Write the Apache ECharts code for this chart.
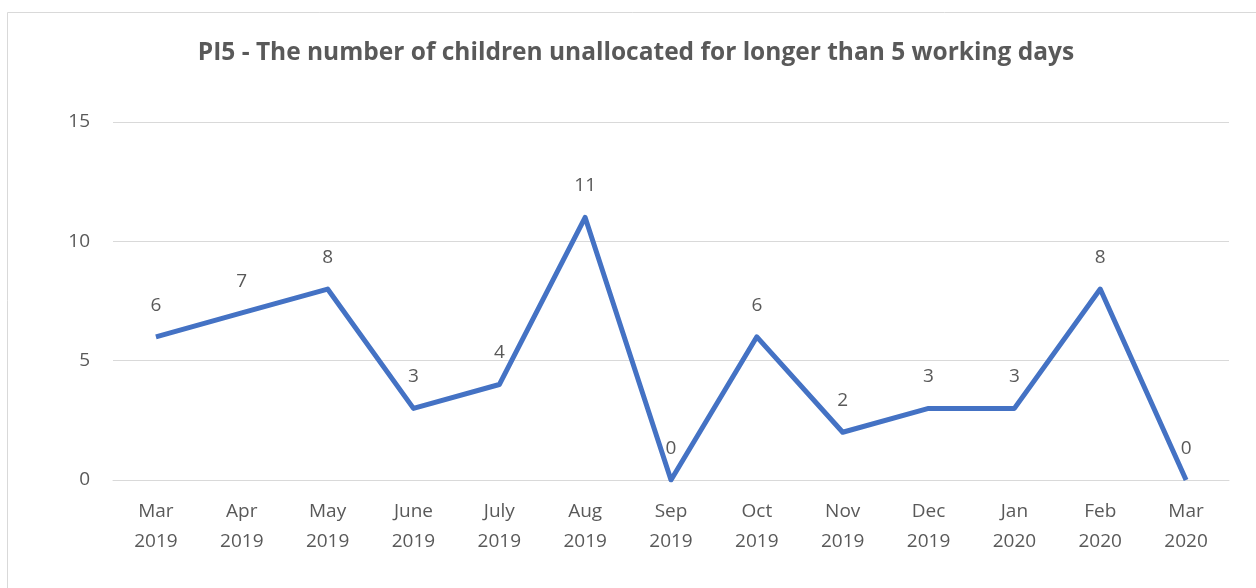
<!DOCTYPE html>
<html>
<head>
<meta charset="utf-8">
<script src="https://cdn.jsdelivr.net/npm/echarts@6/dist/echarts.min.js"></script>
<style>
  html, body { margin: 0; padding: 0; background: #fff; }
  #chart { width: 1256px; height: 588px; }
</style>
</head>
<body>
<div id="chart"></div>
<script>
// Monthly count of children unallocated for more than 5 working days
const months = ['Mar\n2019', 'Apr\n2019', 'May\n2019', 'June\n2019', 'July\n2019', 'Aug\n2019',
  'Sep\n2019', 'Oct\n2019', 'Nov\n2019', 'Dec\n2019', 'Jan\n2020', 'Feb\n2020', 'Mar\n2020'];
const unallocated = [6, 7, 8, 3, 4, 11, 0, 6, 2, 3, 3, 8, 0];
const yTicks = { min: 0, max: 15, interval: 5 };

const textColor = '#595959';
const lineColor = '#4472C4';
const fontFamily = 'Open Sans, Noto Sans, sans-serif';

const chart = echarts.init(document.getElementById('chart'));
chart.setOption({
  animation: false,
  backgroundColor: '#fff',
  graphic: [{
    type: 'rect',
    shape: { x: 7.5, y: 12.5, width: 1300, height: 700 },
    style: { fill: 'none', stroke: '#d9d9d9', lineWidth: 1 },
    silent: true
  }],
  title: {
    text: 'PI5 - The number of children unallocated for longer than 5 working days',
    left: 631,
    textAlign: 'center',
    top: 36,
    textStyle: { color: textColor, fontFamily, fontWeight: 'bold', fontSize: 24.5 }
  },
  grid: { left: 113, right: 27, top: 122, bottom: 108 },
  xAxis: {
    type: 'category',
    data: months,
    boundaryGap: true,
    axisLine: { show: true, lineStyle: { color: '#d9d9d9', width: 1 } },
    axisTick: { show: false },
    axisLabel: { color: textColor, fontFamily, fontSize: 19, lineHeight: 30, margin: 17, interval: 0 }
  },
  yAxis: {
    type: 'value',
    min: yTicks.min, max: yTicks.max, interval: yTicks.interval,
    axisLine: { show: false },
    axisTick: { show: false },
    splitLine: { lineStyle: { color: '#d9d9d9', width: 1 } },
    axisLabel: { color: textColor, fontFamily, fontSize: 19, margin: 23 }
  },
  series: [{
    type: 'line',
    data: unallocated,
    symbol: 'circle',
    symbolSize: 0.1,
    lineStyle: { color: lineColor, width: 5, join: 'round' },
    itemStyle: { color: lineColor, borderWidth: 0 },
    label: {
      show: true, position: 'top', distance: 22,
      color: textColor, fontFamily, fontSize: 19
    }
  }]
});
</script>
</body>
</html>
